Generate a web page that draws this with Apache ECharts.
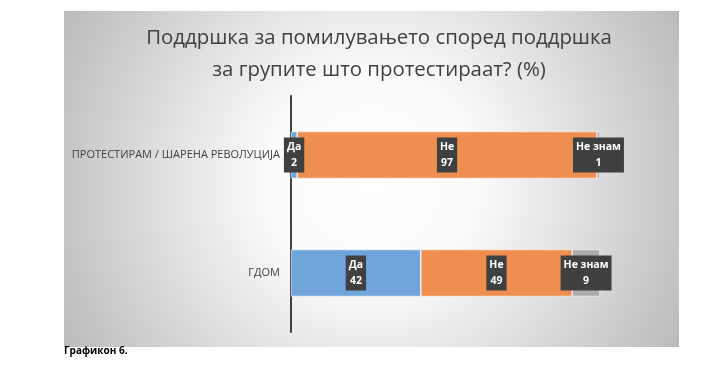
<!DOCTYPE html>
<html><head><meta charset="utf-8">
<script src="https://cdn.jsdelivr.net/npm/echarts@6/dist/echarts.min.js"></script>
<style>html,body{margin:0;padding:0;background:#fff;}#c{width:721px;height:371px;}</style>
</head><body><div id="c"></div>
<script>
const categories = ['ПРОТЕСТИРАМ / ШАРЕНА РЕВОЛУЦИЈА', 'ГДОМ'];
const seriesNames = ['Да', 'Не', 'Не знам'];
const daValues = [2, 42];
const neValues = [97, 49];
const neZnamValues = [1, 9];
const titleLines = ['Поддршка за помилувањето според поддршка', 'за групите што протестираат? (%)'];
const footnote = 'Графикон 6.';

const colors = ['#6fa5da', '#ee8f50', '#acacac'];
const values = [daValues, neValues, neZnamValues];
const chart = echarts.init(document.getElementById('c'));
const series = seriesNames.map((name, i) => ({
  name, type: 'bar', stack: 'total', barWidth: 47,
  data: values[i].slice().reverse(),
  itemStyle: {color: colors[i], borderColor: '#ffffff', borderWidth: 0.6},
  label: {
    show: true, position: 'inside',
    formatter: p => name + '\n' + p.value,
    color: '#ffffff', fontWeight: 'bold', fontSize: 10.5,
    fontFamily: 'Open Sans', lineHeight: 16,
    backgroundColor: '#404040', padding: [2, 3, 1, 3]
  }
}));
chart.setOption({
  animation: false,
  graphic: [
    {type: 'rect', z: -10, shape: {x: 64, y: 11, width: 615, height: 336},
     style: {fill: new echarts.graphic.RadialGradient(0.5, 0.5, 1.05, [
       {offset: 0, color: '#ffffff'}, {offset: 0.3, color: '#fbfbfb'}, {offset: 1, color: '#bababa'}])}},
    {type: 'text', left: 64, top: 346, style: {text: footnote, fontSize: 10, fontWeight: 'bold', fill: '#000', fontFamily: 'Open Sans'}}
  ],
  title: {
    text: titleLines.join('\n'), left: 374, top: 17, textAlign: 'center',
    textStyle: {fontSize: 20.4, fontWeight: 'normal', color: '#404040', fontFamily: 'Open Sans', lineHeight: 32}
  },
  grid: {left: 291, right: 121, top: 96, bottom: 39, containLabel: false},
  xAxis: {type: 'value', min: 0, max: 100, show: false},
  yAxis: {
    type: 'category', data: categories.slice().reverse(),
    axisLine: {show: true, lineStyle: {color: '#404040', width: 2}},
    axisTick: {show: false},
    axisLabel: {color: '#404040', fontSize: 11, fontFamily: 'Open Sans', margin: 11}
  },
  series
});
</script></body></html>
